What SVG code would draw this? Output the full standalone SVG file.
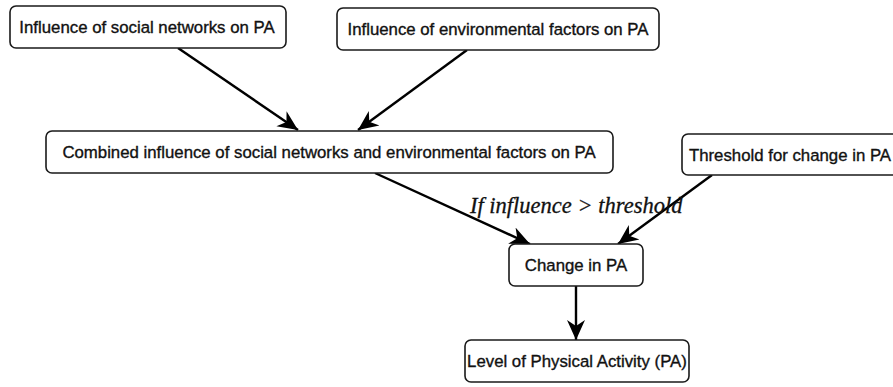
<svg xmlns="http://www.w3.org/2000/svg" width="893" height="387" viewBox="0 0 893 387">
<style>
.box{fill:#fff;stroke:#1a1a1a;stroke-width:1.6}
.t{font-family:"Liberation Sans",Arial,sans-serif;font-size:16.8px;fill:#111;stroke:#111;stroke-width:0.35;text-anchor:middle}
.c{stroke:#000;stroke-width:2.4;fill:none;marker-end:url(#ah)}
.lbl{font-family:"Liberation Serif","Times New Roman",serif;font-style:italic;font-size:22.5px;fill:#111;stroke:#111;stroke-width:0.3}
</style>
<defs>
<marker id="ah" markerUnits="userSpaceOnUse" markerWidth="22" markerHeight="22" viewBox="0 0 22 22" refX="20" refY="11" orient="auto">
<path d="M0,2 L20,11 L0,20 L6,11 Z" fill="#000"/>
</marker>
</defs>
<rect width="893" height="387" fill="#fff"/>
<g id="connectors">
<line class="c" x1="178" y1="48" x2="298" y2="130"/>
<line class="c" x1="467" y1="50" x2="358" y2="130"/>
<line class="c" x1="375" y1="173" x2="530" y2="244"/>
<line class="c" x1="712" y1="175" x2="618" y2="244"/>
<line class="c" x1="576" y1="286" x2="576" y2="340"/>
<text class="lbl" x="470" y="213">If influence &gt; threshold</text>
</g>
<g id="n1"><rect class="box" x="10" y="6" width="276" height="42" rx="6"/><text class="t" x="147" y="33">Influence of social networks on PA</text></g>
<g id="n2"><rect class="box" x="337" y="8" width="322" height="42" rx="6"/><text class="t" x="498" y="35">Influence of environmental factors on PA</text></g>
<g id="n3"><rect class="box" x="46" y="131" width="567" height="42" rx="6"/><text class="t" x="329" y="158">Combined influence of social networks and environmental factors on PA</text></g>
<g id="n4"><rect class="box" x="682" y="134" width="220" height="41" rx="6"/><text class="t" x="790" y="161">Threshold for change in PA</text></g>
<g id="n5"><rect class="box" x="509" y="244" width="134" height="42" rx="6"/><text class="t" x="576" y="271">Change in PA</text></g>
<g id="n6"><rect class="box" x="465" y="340" width="224" height="42" rx="6"/><text class="t" x="577" y="367">Level of Physical Activity (PA)</text></g>
</svg>
